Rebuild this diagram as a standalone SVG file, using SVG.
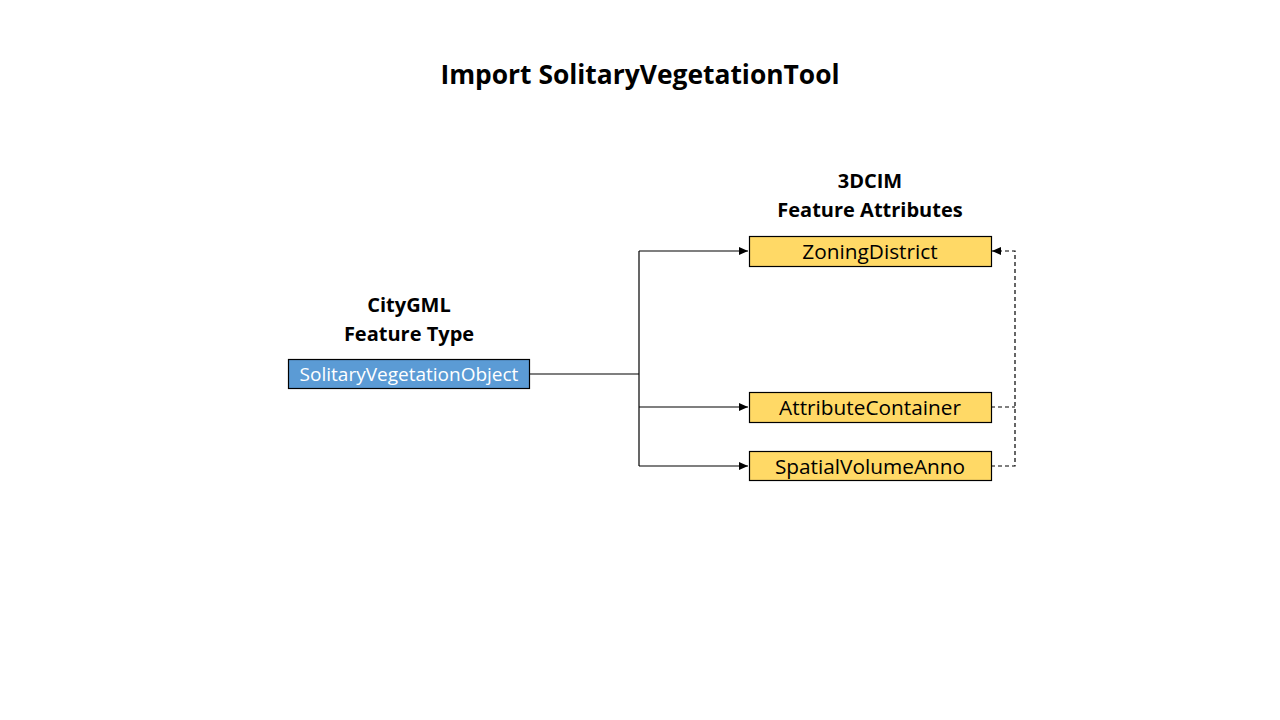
<svg xmlns="http://www.w3.org/2000/svg" width="1280" height="720" viewBox="0 0 1280 720">
<defs>
<marker id="arr" markerWidth="10" markerHeight="8" refX="9" refY="4" orient="auto" markerUnits="userSpaceOnUse">
<path d="M0,0 L9,4 L0,8 Z" fill="#000"/>
</marker>
<style>
.t{font-family:"Open Sans","Noto Sans",sans-serif;fill:#000}
.h{font-size:20px;font-weight:bold;text-anchor:middle}
.lbl{font-size:19px;text-anchor:middle}
.ylbl{font-size:20.8px;text-anchor:middle}
.yb{fill:#FFD966;stroke:#000;stroke-width:1.2}
.bb{fill:#5B9BD5;stroke:#000;stroke-width:1.2}
.ln{fill:none;stroke:#000;stroke-width:1.2}
.dl{fill:none;stroke:#000;stroke-width:1.2;stroke-dasharray:4,3}
</style>
</defs>
<rect width="1280" height="720" fill="#fff"/>
<text class="t" x="640" y="84" font-size="26.4" font-weight="bold" text-anchor="middle">Import SolitaryVegetationTool</text>
<text class="t h" x="870" y="188">3DCIM</text>
<text class="t h" x="870" y="217">Feature Attributes</text>
<text class="t h" x="409" y="312">CityGML</text>
<text class="t h" x="409" y="341">Feature Type</text>
<g id="connectors">
<path class="ln" d="M529,374 H639"/>
<path class="ln" d="M639,251 V466"/>
<path class="ln" d="M639,251 H748" marker-end="url(#arr)"/>
<path class="ln" d="M639,407 H748" marker-end="url(#arr)"/>
<path class="ln" d="M639,466 H748" marker-end="url(#arr)"/>
<path class="dl" d="M991,407 H1015"/>
<path class="dl" d="M991,466 H1015 V251 H992" marker-end="url(#arr)"/>
</g>
<g id="node-solitary">
<rect class="bb" x="288.5" y="359.5" width="241" height="29"/>
<text class="t lbl" x="409" y="381" style="fill:#fff">SolitaryVegetationObject</text>
</g>
<g id="node-zoning">
<rect class="yb" x="749.5" y="236.5" width="242" height="30"/>
<text class="t ylbl" x="870" y="258.5">ZoningDistrict</text>
</g>
<g id="node-attr">
<rect class="yb" x="749.5" y="392.5" width="242" height="30"/>
<text class="t ylbl" x="870" y="414.5">AttributeContainer</text>
</g>
<g id="node-spatial">
<rect class="yb" x="749.5" y="451.5" width="242" height="29"/>
<text class="t ylbl" x="870" y="473.5">SpatialVolumeAnno</text>
</g>
</svg>
